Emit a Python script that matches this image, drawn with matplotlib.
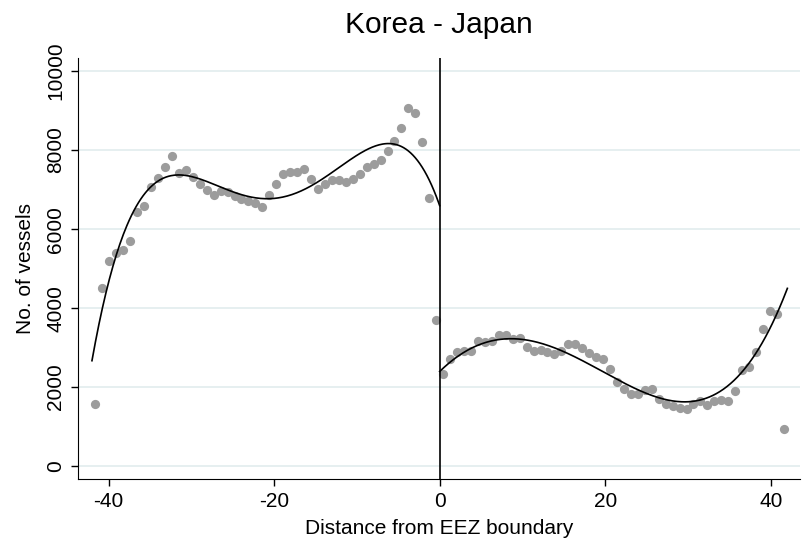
import numpy as np
import matplotlib
matplotlib.use("Agg")
import matplotlib.pyplot as plt

plt.rcParams['font.family'] = ['Liberation Sans', 'DejaVu Sans']

# bin midpoints (distance from EEZ boundary), 50 bins each side
left_x = [-41.58, -40.74, -39.90, -39.06, -38.22, -37.38, -36.54, -35.70, -34.86, -34.02,
          -33.18, -32.34, -31.50, -30.66, -29.82, -28.98, -28.14, -27.30, -26.46, -25.62,
          -24.78, -23.94, -23.10, -22.26, -21.42, -20.58, -19.74, -18.90, -18.06, -17.22,
          -16.38, -15.54, -14.70, -13.86, -13.02, -12.18, -11.34, -10.50, -9.66, -8.82,
          -7.98, -7.14, -6.30, -5.46, -4.62, -3.78, -2.94, -2.10, -1.26, -0.42]
left_y = [1570, 4506, 5197, 5400, 5468, 5696, 6422, 6582, 7055, 7283,
          7578, 7840, 7418, 7494, 7308, 7147, 6980, 6860, 6970, 6945,
          6843, 6760, 6709, 6658, 6565, 6853, 7131, 7384, 7435, 7451,
          7519, 7266, 7021, 7147, 7235, 7240, 7190, 7274, 7384, 7578,
          7645, 7755, 7966, 8236, 8549, 9072, 8937, 8203, 6776, 3688]

right_x = [0.42, 1.26, 2.10, 2.94, 3.78, 4.62, 5.46, 6.30, 7.14, 7.98,
           8.82, 9.66, 10.50, 11.34, 12.18, 13.02, 13.86, 14.70, 15.54, 16.38,
           17.22, 18.06, 18.90, 19.74, 20.58, 21.42, 22.26, 23.10, 23.94, 24.78,
           25.62, 26.46, 27.30, 28.14, 28.98, 29.82, 30.66, 31.50, 32.34, 33.18,
           34.02, 34.86, 35.70, 36.54, 37.38, 38.22, 39.06, 39.90, 40.74, 41.58]
right_y = [2329, 2716, 2886, 2903, 2920, 3173, 3147, 3173, 3325, 3325,
           3207, 3240, 3013, 2911, 2937, 2886, 2835, 2903, 3088, 3088,
           2987, 2852, 2751, 2709, 2464, 2127, 1941, 1814, 1814, 1916,
           1949, 1688, 1578, 1527, 1477, 1435, 1578, 1637, 1553, 1637,
           1662, 1646, 1899, 2430, 2498, 2886, 3476, 3924, 3840, 937]

# fitted polynomial lines, sampled off the chart
fit_left_x = [-42.0, -41.6, -41.3, -40.9, -40.5, -40.1, -39.7, -38.9, -38.3, -37.7,
              -36.5, -35.3, -34.1, -32.9, -31.7, -30.4, -29.2, -28.0, -26.6, -25.0,
              -23.4, -21.8, -20.6, -18.2, -15.8, -13.4, -11.0, -8.6, -6.9, -5.7,
              -4.5, -3.7, -2.9, -2.1, -1.3, -0.6, 0.0]
fit_left_y = [2450, 3020, 3530, 3980, 4370, 4690, 4960, 5470, 5760, 6020,
              6480, 6900, 7210, 7370, 7410, 7370, 7290, 7210, 7070, 6940,
              6850, 6800, 6780, 6830, 7030, 7370, 7720, 8010, 8160, 8190,
              8100, 8000, 7790, 7500, 7240, 6930, 6610]
fit_right_x = [0.0, 1.5, 3.1, 4.7, 6.3, 7.9, 9.5, 11.1, 12.7, 14.3,
               15.9, 17.6, 19.2, 20.8, 21.6, 24.0, 26.4, 28.8, 30.4, 32.0,
               33.6, 35.2, 36.8, 38.4, 40.0, 41.0, 42.0]
fit_right_y = [2410, 2680, 2870, 3060, 3170, 3230, 3240, 3170, 3060, 2940,
               2790, 2630, 2480, 2270, 2200, 1970, 1755, 1630, 1600, 1650,
               1800, 2050, 2470, 3020, 3650, 4030, 4350]

yticks = [0, 2000, 4000, 6000, 8000, 10000]
xticks = [-40, -20, 0, 20, 40]

fig = plt.figure(figsize=(8.03, 5.47), dpi=100)
ax = fig.add_axes([0.097, 0.124, 0.899, 0.770])

# horizontal grid
for t in yticks:
    ax.axhline(t, color='#e6eff0', linewidth=1.4, zorder=0)

ax.scatter(left_x, left_y, s=44, color='#9c9c9c', linewidths=0, zorder=2)
ax.scatter(right_x, right_y, s=44, color='#9c9c9c', linewidths=0, zorder=2)

# smooth the sampled fit lines with a quartic, like the original poly fit
for fx, fy in [(fit_left_x, fit_left_y), (fit_right_x, fit_right_y)]:
    c = np.polyfit(fx, fy, 4)
    xx = np.linspace(fx[0], fx[-1], 300)
    ax.plot(xx, np.polyval(c, xx), color='black', linewidth=1.2, zorder=3)

ax.axvline(0, color='black', linewidth=1.2, zorder=3)

ax.set_xlim(-43.7, 43.5)
ax.set_ylim(-330, 10330)
ax.set_xticks(xticks)
ax.set_yticks(yticks)
ax.set_xticklabels([str(t) for t in xticks], fontsize=15)
ax.set_yticklabels([str(t) for t in yticks], fontsize=15, rotation=90, va='center')
ax.tick_params(direction='out', length=5, width=1, pad=4)
ax.spines['top'].set_visible(False)
ax.spines['right'].set_visible(False)
ax.set_xlabel('Distance from EEZ boundary', fontsize=15, labelpad=6)
ax.set_ylabel('No. of vessels', fontsize=15, labelpad=8)
ax.set_title('Korea - Japan', fontsize=21.5, pad=18)

fig.savefig('out.png', dpi=100)
